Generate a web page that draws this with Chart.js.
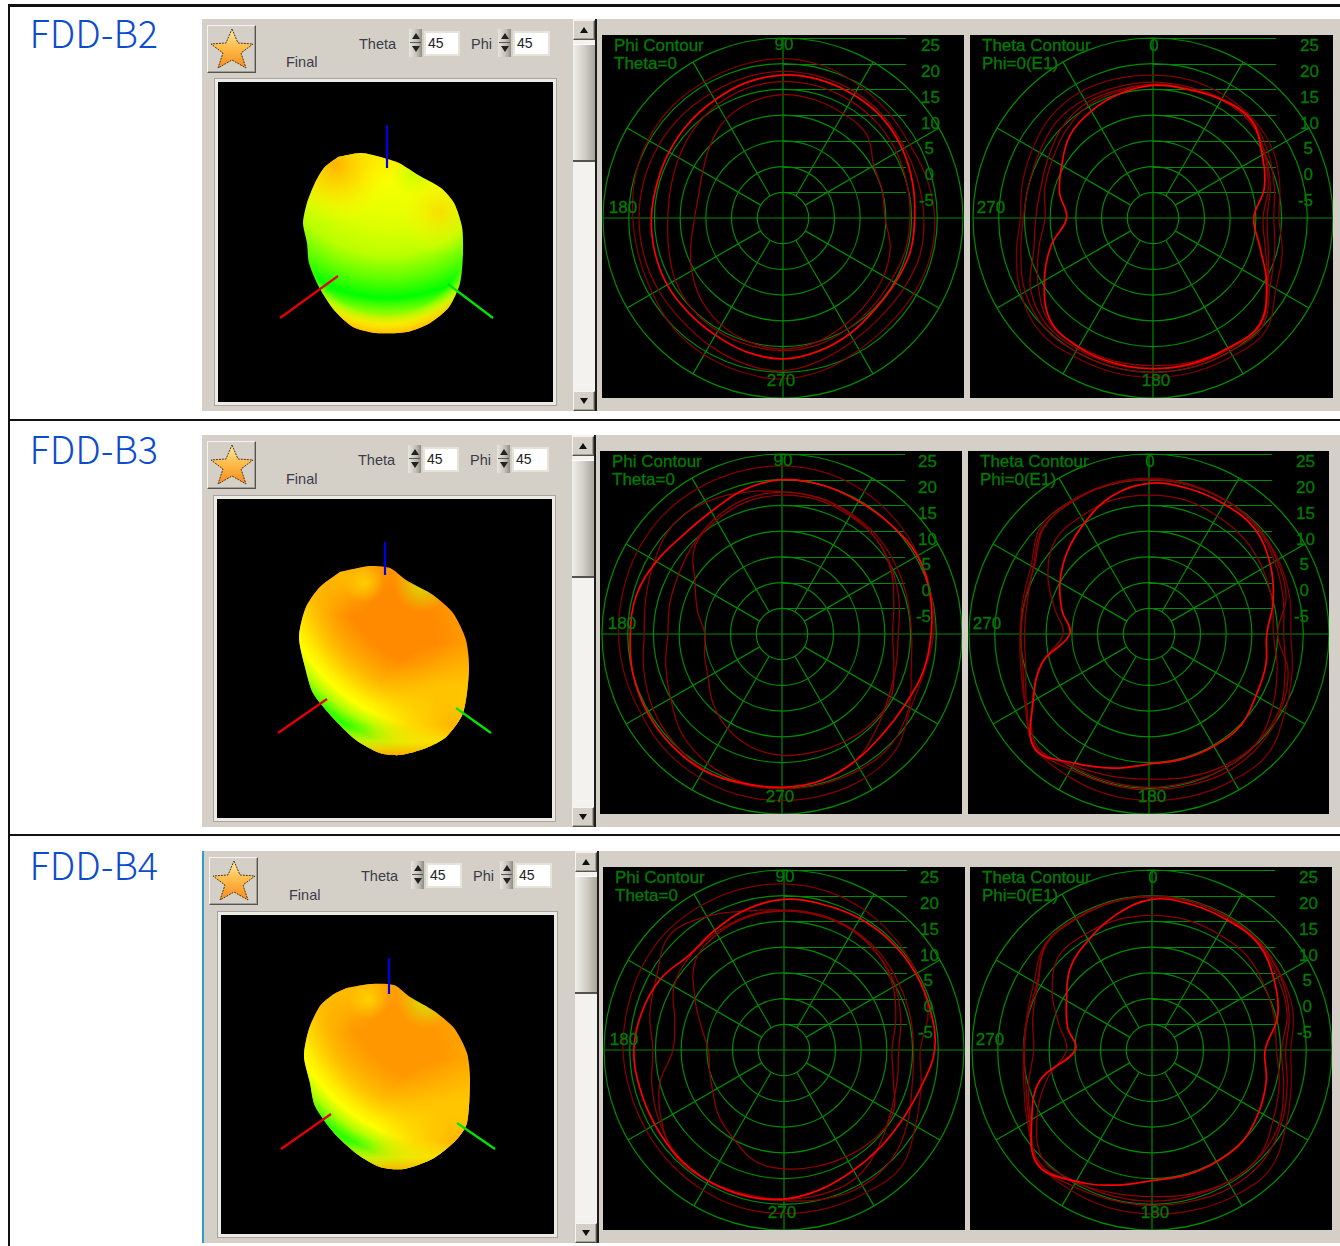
<!DOCTYPE html>
<html><head><meta charset="utf-8">
<style>
html,body{margin:0;padding:0;background:#fff;width:1340px;height:1246px;overflow:hidden}
.a{position:absolute;box-sizing:border-box}
.panel{background:#d4d0c8}
.h{font-family:"Noto Sans CJK SC","Noto Sans";font-weight:300;font-size:38px;color:#0f4ccc;line-height:1;white-space:nowrap}
.t{font-family:"Liberation Sans";font-size:14.5px;color:#3c3c48;line-height:1;white-space:nowrap}
.input{background:#fff;border:2px solid #e6e3da;font-family:"Liberation Sans";font-size:14px;color:#222;line-height:21px;padding-left:2px}
.spin{background:linear-gradient(90deg,#e8e6df,#c4c0b6 60%,#8f8c84)}
.tri{position:absolute;left:3px;width:0;height:0;border-left:4px solid transparent;border-right:4px solid transparent}
.btn{background:#d4d0c8;border:1px solid;border-color:#f6f5f1 #55534e #55534e #f6f5f1;box-shadow:inset -1px -1px 0 #a19e96}
.thumb{background:linear-gradient(90deg,#f0efe9,#d4d0c8 50%,#a8a59c);border-top:1px solid #fff;border-bottom:2px solid #55534e}
.box{background:#000;overflow:hidden}
canvas{position:absolute;display:block;filter:blur(.35px)}
</style>
<script src="https://cdn.jsdelivr.net/npm/chart.js@4"></script>
</head><body>
<script>
// ---------- categories and tick labels ----------
const phiCategories=["90","75","60","45","30","15","0","345","330","315","300","285","270","255","240","225","210","195","180","165","150","135","120","105"];
const thetaCategories=["0","15","30","45","60","75","90","105","120","135","150","165","180","195","210","225","240","255","270","285","300","315","330","345"];
const radialTicks=[-5,0,5,10,15,20,25];
const rowNames=["FDD-B2","FDD-B3","FDD-B4"];
const phiTitles=["Phi Contour","Theta=0"];
const thetaTitles=["Theta Contour","Phi=0(E1)"];
const spinnerValue="45";

// ---------- contour series (dB), clockwise from the top of each plot ----------
const b2PhiA=[17.8,17.8,17.6,17.4,16.8,16.1,15.6,15.6,15.2,15.2,16,16.8,17.4,17,16.3,16,16,15.8,15.6,15.4,15.6,16,16.5,17.3];
const b2PhiB=[21,20.6,19.7,19,18.5,19,19.5,19.6,19.4,19.2,19.6,20.6,21.3,21,20.7,20.2,19.3,19,19.2,19.8,20.3,20.6,20.6,20.8];
const b2PhiC=[18.5,18.4,18.2,17.8,17.3,17.2,17.4,17.6,17.2,17,17.5,18.6,19.7,19.3,18.6,18,18,18,18,18,18,18,18,18.3];
const b2PhiD=[16.5,16.5,16.3,16,15.5,15,14.7,14.6,14.3,14.5,15,15.6,15.8,15.6,15.4,15,14.2,13,12.4,12.6,13.4,14.5,15.5,16.2];
const b2PhiE=[14,13.8,13.4,13,10.4,10,9.8,11.6,12.6,13.2,14,15,15.5,15,14,12.5,10.5,8.5,7.2,7,8,10,12.2,13.4];
const b2ThetaA=[15.8,15.9,16.6,17,14.5,12.4,9.6,11.5,15.5,19.3,19.2,19.3,19.3,19.2,19,18.2,14.4,10.5,6.8,8.8,10.5,12.8,14,15];
const b2ThetaB=[17.8,17.8,17.6,17.4,16.8,15.5,14.5,16,17.6,21,21,21,21,21,21,21.2,19.6,17.5,15.8,16.3,17,18,18.3,18];
const b2ThetaC=[16.4,16.4,16.8,17,15.8,14.4,13.5,14.5,16.3,20,20,20,20,20,20,20,18.7,16.6,15.2,15,15.5,16.5,16.6,16.4];
const b2ThetaD=[16,16,16.5,16.5,15.2,13.6,12.2,13.2,15.8,19.5,19.2,19,18.7,18.8,18.8,18.6,15.8,13,11,11.8,12.6,14,15.2,15.5];
const b2ThetaE=[16,16,16.6,16.8,15,13.2,11.4,12.6,15.7,19.5,19.5,19.5,19.3,19.4,19.4,19.3,17.5,14,12.8,12.6,13.5,15,15.8,15.8];
const b3PhiA=[20,20,19.8,20,20.4,19.8,19,18.4,17.6,17.6,18.5,19.5,19.8,20,20.6,20.5,20.3,20,19.5,19.3,18.2,17.2,17.5,19];
const b3PhiB=[22.7,22.5,22,21.3,20.6,20,19.5,18.6,18.9,21.5,22.3,22.4,22.4,22.4,22.2,22,21.5,21.6,21.8,22,22.4,22.7,22.7,22.7];
const b3PhiC=[17.7,17.5,17,16.5,15.8,15.3,15.2,16,18.5,20.2,20.4,20.2,20.1,20.2,20.4,19.8,19,17.8,16.8,17.4,18.6,20,19.6,18.5];
const b3PhiD=[17.6,17.4,16.8,16,14.8,13.6,12.6,13,14,16,18.5,19.5,19.8,19.8,19,17.5,15,13.4,12.2,12.6,13.2,14.5,16,17.2];
const b3PhiE=[17,17,16.5,16,14.5,12.5,11.5,12.5,14.5,14.6,14.2,13.8,13.6,12.8,11.2,9,6.6,5.6,5,7,9.5,14,15.5,16.6];
const b3ThetaA=[19.3,19.3,19.2,19,17.2,15,12.9,13.5,14,15.2,15.2,15.2,15.3,17,19,21.5,16,11.5,5.4,7.5,10,12.5,15,17.8];
const b3ThetaB=[20.3,20.2,20,19.7,19,18.3,17.6,18.8,20.5,22.8,22.8,22.6,22.4,22.2,21.8,21.2,17.8,15.8,15.1,15.4,16.5,19.7,20,20.2];
const b3ThetaC=[17,17,16.5,16.2,15.5,14.8,14.2,15.8,17.8,19.8,20,19.8,19.8,19.7,19.8,20.8,16.2,11.5,6.7,9,12.7,15.8,16.4,17];
const b3ThetaD=[20,20,19.9,19.5,18.2,17,16.2,17.4,19.3,19.8,19.5,18.8,18.2,18.6,19.5,21.2,17.5,14.8,14.2,14.5,16,19.2,19.7,20];
const b3ThetaE=[20,20,19.9,19.7,18.7,17.6,15,18,19.6,20.5,20.8,20.4,20.3,20.2,20.4,21.3,17.8,15.4,14.9,15,15.8,19,19.8,20];
const b4PhiA=[19.3,19.3,19.5,19.6,19.6,19.5,19.3,17.6,16.7,16.6,17,18,19,19.3,19.4,19.3,19,19,19.2,18.6,17.7,16.1,16.9,18.3];
const b4PhiB=[22.3,22,21.4,20.6,19.8,19,16.5,17.6,19.5,22.2,22,21.9,21.8,21.8,21.5,21.2,21,21,21.3,21.5,22,22.4,22.4,22.4];
const b4PhiC=[17.2,17.2,17,16.5,15.8,15.4,15.2,15.8,17.8,19.8,20.5,20,19.3,19.4,19.5,19.2,18,16.6,15.5,17,18.6,21.5,20,18];
const b4PhiD=[17.2,17.2,16.8,16,15,13.5,12.3,12.8,14,16.2,18.5,19,19,19,19.4,19.6,17.5,15,11.6,12,14.7,15.8,16.4,17];
const b4PhiE=[17,17,16.8,16,14.5,12.5,11,12,14.5,14.6,14,13.5,13.1,12.3,9.8,8,6,5,4.7,6.6,10,14.4,16,16.8];
const b4ThetaA=[19.3,19.3,19.2,19.2,17.4,15.3,12,13,14,15,15.1,15.2,15.4,17.2,19.5,21.5,17,12.5,4.9,7,9.2,12.5,14.7,17.2];
const b4ThetaB=[19.9,19.9,19.8,19.7,19,18.4,17,18,20,22.6,22.6,22.2,21.9,21.8,21.5,21,18,15.8,15,15.2,16.5,19.3,19.6,19.8];
const b4ThetaC=[16.2,16.2,16,16,15.2,14.6,14.2,15.6,17.2,19.4,19.6,19.4,19.4,19.4,19.6,20,15.8,11,6.6,8.7,12.4,15.7,16,16.2];
const b4ThetaD=[19.8,19.8,19.6,19.3,18.2,17.2,15.2,16.5,18.6,19.5,19.6,19,18.5,18.8,19.8,21,17.3,14.8,13,14,15.6,19,19.4,19.7];
const b4ThetaE=[19.8,19.8,19.7,19.5,18.8,17.6,16,17.2,19,20.5,20.8,20.4,20.2,20.2,20.6,21.3,17.6,15.4,14.8,15,15.8,19.2,19.6,19.8];

// ---------- 3D pattern outlines ----------
const b2BlobX=[120,143,166,181,200,223,236,244,245,242,231,212,189,158,135,116,101,91,89,85,89,97,106,120];
const b2BlobY=[75,71,76,81,93,106,121,145,171,201,225,241,250,251,245,228,205,181,161,141,121,101,86,75];
const b3BlobX=[123,153,173,189,216,236,249,252,246,229,209,183,163,139,116,96,88,82,89,103,123];
const b3BlobY=[73,67,69,81,96,114,141,171,214,238,249,256,254,241,219,194,168,138,108,88,73];
const b4BlobX=[126,149,173,189,213,233,246,249,246,236,213,183,159,136,113,94,89,83,88,99,113,126];
const b4BlobY=[73,69,70,82,96,113,138,164,208,224,243,254,252,239,218,191,168,141,114,91,79,73];
const b2AxisZ=[{x:169,y:43},{x:169,y:86}];
const b2AxisX=[{x:62,y:236},{x:120,y:194}];
const b2AxisY=[{x:275,y:236},{x:230,y:202}];
const b3AxisZ=[{x:168,y:43},{x:168,y:76}];
const b3AxisX=[{x:61,y:234},{x:110,y:200}];
const b3AxisY=[{x:274,y:234},{x:239,y:209}];
const b4AxisZ=[{x:168,y:43},{x:168,y:79}];
const b4AxisX=[{x:60,y:234},{x:110,y:199}];
const b4AxisY=[{x:274,y:234},{x:236,y:208}];

// ---------- layout ----------
const GREEN='#008c00', TXT='#007c00';
const rows=[
 {top:19,left:202,ctrlDx:1,dy:0,scroll:573,
  view:[218,82,335,320],
  phi:{box:[602,35,362,363],c:[783,218]},theta:{box:[970,35,363,363],c:[1153,218]},div:595},
 {top:435,left:202,ctrlDx:0,dy:416,scroll:572,
  view:[217,499,335,319],
  phi:{box:[600,451,362,363],c:[782,634]},theta:{box:[968,451,361,363],c:[1149,634]},div:594},
 {top:851,left:204,ctrlDx:3,dy:832,scroll:575,
  view:[221,915,333,319],
  phi:{box:[603,867,362,363],c:[784,1050]},theta:{box:[970,867,362,363],c:[1152,1050]},div:597}
];
function el(cls,l,t,w,h,txt){const d=document.createElement('div');d.className='a '+cls;d.style.left=l+'px';d.style.top=t+'px';
 if(w!=null)d.style.width=w+'px';if(h!=null)d.style.height=h+'px';if(txt!=null)d.textContent=txt;document.body.appendChild(d);return d;}

// frame lines
el('',8,4,1332,3).style.background='#111';
el('',8,4,2,1242).style.background='#111';
el('',8,419,1332,2).style.background='#111';
el('',8,834,1332,2).style.background='#111';

function starSvg(id){return `<svg width="47" height="46" viewBox="0 0 47 46" style="position:absolute;left:0;top:0"><defs><linearGradient id="${id}" x1="0" y1="0" x2="0" y2="1"><stop offset="0" stop-color="#ffe9a8"/><stop offset=".45" stop-color="#ffbe4e"/><stop offset="1" stop-color="#fb8c1c"/></linearGradient></defs><polygon points="24,3 30,17 45,18 33,27 38,42 24,34 10,42 15,27 3,18 18,17" fill="url(#${id})" stroke="#4a3a18" stroke-width="1" stroke-dasharray="2 1"/></svg>`;}
function spinner(x,y){const s=el('spin',x,y,13,28);
 const u=document.createElement('div');u.className='tri';u.style.cssText+='top:4px;border-bottom:6px solid #222';s.appendChild(u);
 const m=document.createElement('div');m.style.cssText='position:absolute;left:1px;right:1px;top:13px;height:1px;background:#555';s.appendChild(m);
 const v=document.createElement('div');v.className='tri';v.style.cssText+='top:17px;border-top:6px solid #222';s.appendChild(v);}
function arrow(x,y,up){const b=el('btn',x,y,22,20);const t=document.createElement('div');t.className='tri';
 t.style.left='6px';t.style.top='6px';t.style[up?'borderBottom':'borderTop']='6px solid #111';b.appendChild(t);}

rows.forEach((r,i)=>{
 el('h',29.5,r.dy+13,null,null,rowNames[i]);
 el('panel',r.left,r.top,1340-r.left,392);
 if(i===2) el('',202,r.top,2,392).style.background='#2f9bc9';
 const dx=r.ctrlDx, dy=r.dy;
 const st=el('btn',207+dx-(i==1?0:1),25+dy,49,48); st.innerHTML=starSvg('s'+i);
 el('t',358+dx,37+dy,null,null,'Theta');
 spinner(408+dx,29+dy); el('input',423+dx,31+dy,36,25,spinnerValue);
 el('t',470+dx,37+dy,null,null,'Phi');
 spinner(497+dx,29+dy); el('input',512+dx,31+dy,37,25,spinnerValue);
 el('t',286+dx-(i==0?1:0),55+dy+(i==0?0:1),null,null,'Final');
 const f=el('',r.view[0]-4,r.view[1]-4,r.view[2]+8,r.view[3]+8);
 f.style.cssText+='background:#ecebe5;border:1px solid #a8a59c';
 el('',r.scroll,r.top,22,392).style.background='#f3f2ef';
 arrow(r.scroll,r.top+1,true);
 el('thumb',r.scroll,r.top+25,22,118);
 arrow(r.scroll,r.top+372,false);
 el('',r.div,r.top,2,392).style.background='#1c1c1c';
});

// ---------- polar charts ----------
const polarPlugin={
 id:'polarDecor',
 beforeDatasetsDraw(chart){
  const s=chart.scales.r,c=chart.ctx,xc=s.xCenter,yc=s.yCenter,max=s.getDistanceFromCenterForValue(25),inner=s.getDistanceFromCenterForValue(-5);
  c.save();c.strokeStyle=GREEN;c.lineWidth=1.2;c.beginPath();
  for(let i=0;i<24;i+=2){
   const onAxis=i%6===0, a=s.getPointPosition(i,onAxis?0:inner), b=s.getPointPosition(i,max);
   c.moveTo(a.x,a.y);c.lineTo(b.x,b.y);
  }
  radialTicks.forEach(v=>{
   const y=Math.round(yc-s.getDistanceFromCenterForValue(v))+.5;
   c.moveTo(v===25?xc-13:xc,y);c.lineTo(xc+123,y);
  });
  c.stroke();c.restore();
 },
 afterDatasetsDraw(chart,_,o){
  const s=chart.scales.r,c=chart.ctx,xc=s.xCenter,yc=s.yCenter;
  c.save();c.fillStyle=TXT;c.strokeStyle=TXT;c.lineWidth=.35;c.font='17px "Liberation Sans"';c.textBaseline='middle';
  const put=(t,x,y)=>{c.fillText(t,x,y);c.strokeText(t,x,y);};
  radialTicks.forEach(v=>{
   c.textAlign='right';
   const edge=v>=10?o.tickEdge:o.tickEdge-6;
   put(String(v),xc+edge,yc-s.getDistanceFromCenterForValue(v)+8.7);
  });
  c.textAlign='center';
  o.cardinals.forEach(k=>put(k.label,xc+k.dx,yc+k.dy));
  c.textAlign='left';
  put(o.titles[0],o.tx,o.ty);
  put(o.titles[1],o.tx,o.ty+18);
  c.restore();
 }
};
function polar(plot,labels,series,titles,cardinals,tickEdge){
 const b=el('box',plot.box[0],plot.box[1],plot.box[2],plot.box[3]);
 const cv=document.createElement('canvas');const S=364;cv.width=S;cv.height=S;cv.style.width=S+'px';cv.style.height=S+'px';
 const ox=plot.c[0]-plot.box[0]-182, oy=plot.c[1]-plot.box[1]-182;
 cv.style.left=ox+'px';cv.style.top=oy+'px';b.appendChild(cv);
 const styles=[['#ff0000',1.7],['#800000',1.25],['#8c0000',1.25],['#900000',1.25],['#940000',1.25]];
 new Chart(cv,{type:'radar',
  data:{labels,datasets:series.map((d,i)=>({data:d,borderColor:styles[i][0],borderWidth:styles[i][1],pointRadius:0,fill:false,tension:.38}))},
  plugins:[polarPlugin],
  options:{responsive:false,animation:false,devicePixelRatio:1,layout:{padding:2},
   plugins:{legend:{display:false},tooltip:{enabled:false},
    polarDecor:{titles,cardinals,tickEdge,tx:12-ox,ty:11-oy}},
   scales:{r:{min:-10,max:25,beginAtZero:false,ticks:{display:false,stepSize:5},
    pointLabels:{display:false},angleLines:{display:false},
    grid:{circular:true,color:GREEN,lineWidth:1.2}}}}});
}
const phiCard=[{label:'90',dx:1,dy:-173},{label:'180',dx:-160,dy:-10},{label:'270',dx:-2,dy:163}];
const thetaCard=[{label:'0',dx:1,dy:-172},{label:'270',dx:-162,dy:-10},{label:'180',dx:3,dy:163}];
polar(rows[0].phi,phiCategories,[b2PhiA,b2PhiB,b2PhiC,b2PhiD,b2PhiE],phiTitles,phiCard,157);
polar(rows[0].theta,thetaCategories,[b2ThetaA,b2ThetaB,b2ThetaC,b2ThetaD,b2ThetaE],thetaTitles,thetaCard,166);
polar(rows[1].phi,phiCategories,[b3PhiA,b3PhiB,b3PhiC,b3PhiD,b3PhiE],phiTitles,phiCard,155);
polar(rows[1].theta,thetaCategories,[b3ThetaA,b3ThetaB,b3ThetaC,b3ThetaD,b3ThetaE],thetaTitles,thetaCard,166);
polar(rows[2].phi,phiCategories,[b4PhiA,b4PhiB,b4PhiC,b4PhiD,b4PhiE],phiTitles,phiCard,155);
polar(rows[2].theta,thetaCategories,[b4ThetaA,b4ThetaB,b4ThetaC,b4ThetaD,b4ThetaE],thetaTitles,thetaCard,166);

// ---------- 3D pattern charts ----------
function grad(ctx,sp){
 const ch=ctx.chart; const xs=ch.scales.x, ys=ch.scales.y; if(!xs||!ys||!ch.chartArea) return 'rgba(0,0,0,0)';
 let g;
 if(sp.kind==='r'){const x=xs.getPixelForValue(sp.c[0]),y=ys.getPixelForValue(sp.c[1]);g=ch.ctx.createRadialGradient(x,y,0,x,y,sp.r);}
 else g=ch.ctx.createLinearGradient(0,ys.getPixelForValue(sp.from),0,ys.getPixelForValue(sp.to));
 sp.stops.forEach(s=>g.addColorStop(s[0],s[1]));
 return g;
}
function blob(view,xs,ys,axes,layers){
 const b=el('box',view[0],view[1],view[2],view[3]);
 const cv=document.createElement('canvas');cv.width=view[2];cv.height=view[3];b.appendChild(cv);
 const outline=xs.map((x,i)=>({x,y:ys[i]}));
 const axisDs=[['#0000e6',axes[0]],['#e60000',axes[1]],['#00e600',axes[2]]].map(a=>({data:a[1],showLine:true,borderColor:a[0],borderWidth:2.2,pointRadius:0,fill:false}));
 const fillDs=layers.slice().reverse().map(sp=>({data:outline,showLine:true,borderWidth:0,pointRadius:0,fill:'shape',tension:.25,
   backgroundColor:(ctx)=>grad(ctx,sp)}));
 new Chart(cv,{type:'scatter',data:{datasets:[...axisDs,...fillDs]},
  options:{responsive:false,animation:false,devicePixelRatio:1,layout:{padding:0},
   plugins:{legend:{display:false},tooltip:{enabled:false}},
   scales:{x:{type:'linear',display:false,min:0,max:view[2]},y:{type:'linear',display:false,reverse:true,min:0,max:view[3]}}}});
}
const clear='rgba(255,255,0,0)';
blob(rows[0].view,b2BlobX,b2BlobY,[b2AxisZ,b2AxisX,b2AxisY],[
 {kind:'r',c:[170,60],r:195,stops:[[0,'#ffe000'],[.2,'#f8ff00'],[.42,'#e0ff00'],[.58,'#bcff00'],[.7,'#60ff00'],[.8,'#00ff00'],[.87,'#80ff00'],[.95,'#ffe000'],[1,'#ffb800']]},
 {kind:'r',c:[168,150],r:102,stops:[[0,clear],[.8,clear],[.9,'rgba(255,240,0,.6)'],[1,'rgba(255,190,0,1)']]},
 {kind:'r',c:[118,82],r:60,stops:[[0,'rgba(255,176,0,.95)'],[.45,'rgba(255,215,0,.75)'],[1,clear]]},
 {kind:'r',c:[222,130],r:44,stops:[[0,'rgba(255,215,0,.8)'],[1,clear]]},
 {kind:'r',c:[195,92],r:22,stops:[[0,'rgba(190,255,0,.7)'],[1,'rgba(190,255,0,0)']]}
]);
const warm=(c0,c1)=>[
 {kind:'r',c:[170,140],r:125,stops:[[0,c0],[.4,c0],[.7,c1],[.88,'#ffc000'],[1,'#ffe000']]},
 {kind:'r',c:[230,60],r:230,stops:[[0,'rgba(255,190,0,0)'],[.48,'rgba(255,190,0,0)'],[.6,'rgba(255,205,0,.6)'],[.7,'rgba(255,240,0,.95)'],[.74,'#ffff00'],[.79,'#b0ff00'],[.84,'#30ff00'],[.88,'#50ff00'],[.96,'#c8ff00']]},
 {kind:'r',c:[236,232],r:88,stops:[[0,'rgba(255,175,0,1)'],[.5,'rgba(255,205,0,.7)'],[1,'rgba(255,225,0,0)']]},
 {kind:'l',from:226,to:256,stops:[[0,'rgba(255,240,0,0)'],[.55,'rgba(255,235,0,.7)'],[1,'rgba(255,170,0,1)']]},
 {kind:'r',c:[125,78],r:40,stops:[[0,'rgba(255,190,0,.9)'],[1,'rgba(255,190,0,0)']]},
 {kind:'r',c:[148,84],r:20,stops:[[0,'rgba(255,225,0,.7)'],[1,'rgba(255,225,0,0)']]},
 {kind:'r',c:[205,85],r:28,stops:[[0,'rgba(200,255,0,.7)'],[1,'rgba(200,255,0,0)']]}
];
blob(rows[1].view,b3BlobX,b3BlobY,[b3AxisZ,b3AxisX,b3AxisY],warm('#ff8a00','#ffa000'));
blob(rows[2].view,b4BlobX,b4BlobY,[b4AxisZ,b4AxisX,b4AxisY],warm('#ff9800','#ffac00'));
</script>
</body></html>
